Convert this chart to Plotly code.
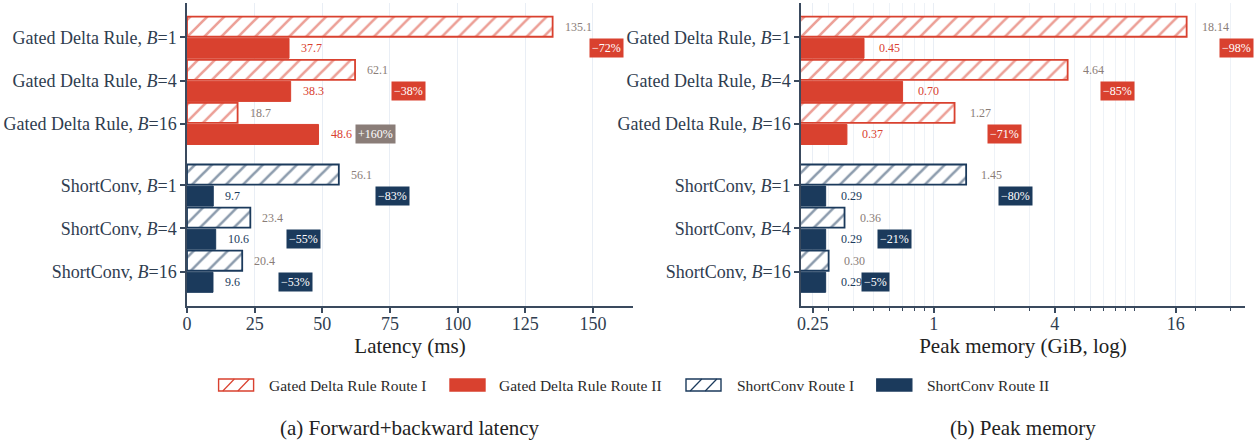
import math
import plotly.graph_objects as go

# ---- data ---------------------------------------------------------------
categories = [
    "Gated Delta Rule, <i>B</i>=1",
    "Gated Delta Rule, <i>B</i>=4",
    "Gated Delta Rule, <i>B</i>=16",
    "ShortConv, <i>B</i>=1",
    "ShortConv, <i>B</i>=4",
    "ShortConv, <i>B</i>=16",
]
family = ["gdr", "gdr", "gdr", "sc", "sc", "sc"]
row_pos = [0, 1, 2, 3.43, 4.43, 5.43]

latency_route1 = [135.1, 62.1, 18.7, 56.1, 23.4, 20.4]
latency_route2 = [37.7, 38.3, 48.6, 9.7, 10.6, 9.6]
latency_change = ["\u221272%", "\u221238%", "+160%", "\u221283%", "\u221255%", "\u221253%"]

memory_route1 = [18.14, 4.64, 1.27, 1.45, 0.36, 0.30]
memory_route2 = [0.45, 0.70, 0.37, 0.29, 0.29, 0.29]
memory_change = ["\u221298%", "\u221285%", "\u221271%", "\u221280%", "\u221221%", "\u22125%"]

memory_ticks = [0.25, 1, 4, 16]
memory_ticktext = ["0.25", "1", "4", "16"]

# ---- style --------------------------------------------------------------
FONT = "'Liberation Serif', 'Times New Roman', Times, serif"
RED = "#d9412f"
NAVY = "#1b3a5c"
TAUPE = "#8a7d78"
INK = "#2f3d4f"
AXIS = "#3a4a5e"
GRID = "#e9eef5"
FAM_COLOR = {"gdr": RED, "sc": NAVY}

W, H = 1255, 444
ML, MR, MT, MB = 187, 10, 3, 138
PW = W - ML - MR
PH = H - MT - MB


def px_x(px):
    return (px - ML) / PW


def px_y(py):
    return (MT + PH - py) / PH


colors = [FAM_COLOR[f] for f in family]

fig = go.Figure()


def add_panel(xa, ya, r1, r2):
    fig.add_trace(go.Bar(
        y=row_pos, x=r1, orientation="h", xaxis=xa, yaxis=ya,
        name="Route I", showlegend=False,
        marker=dict(color="white", line=dict(color=colors, width=1.8),
                    pattern=dict(shape="/", fgcolor=colors, bgcolor="white",
                                 size=12, solidity=0.22)),
    ))
    fig.add_trace(go.Bar(
        y=row_pos, x=r2, orientation="h", xaxis=xa, yaxis=ya,
        name="Route II", showlegend=False,
        marker=dict(color=colors, line=dict(color=colors, width=1)),
    ))


add_panel("x", "y", latency_route1, latency_route2)
add_panel("x2", "y2", memory_route1, memory_route2)

annotations = []


def label_panel(xref, yref, r1, r2, changes, log, shift_val, shift_box):
    conv = (lambda v: math.log10(v)) if log else (lambda v: v)
    fmt = "{:.2f}" if log else "{:.1f}"
    for i, p in enumerate(row_pos):
        annotations.append(dict(
            x=conv(r1[i]), y=p - 0.25, xref=xref, yref=yref, text=fmt.format(r1[i]),
            showarrow=False, xanchor="left", yanchor="middle", xshift=shift_val,
            font=dict(family=FONT, size=12, color=TAUPE)))
        annotations.append(dict(
            x=conv(r2[i]), y=p + 0.25, xref=xref, yref=yref, text=fmt.format(r2[i]),
            showarrow=False, xanchor="left", yanchor="middle", xshift=shift_val,
            font=dict(family=FONT, size=12, color=colors[i])))
        box = TAUPE if changes[i].startswith("+") else colors[i]
        annotations.append(dict(
            x=conv(max(r1[i], r2[i])), y=p + 0.25, xref=xref, yref=yref,
            text=changes[i], showarrow=False, xanchor="left", yanchor="middle",
            xshift=shift_box, bgcolor=box, borderpad=2,
            font=dict(family=FONT, size=12, color="white")))


label_panel("x", "y", latency_route1, latency_route2, latency_change, False, 10, 36)
label_panel("x2", "y2", memory_route1, memory_route2, memory_change, True, 13, 32)

# ---- legend (drawn in paper space) ---------------------------------------
shapes = []
legend_items = [
    ("Gated Delta Rule Route I", RED, True, 218.6, 266.5),
    ("Gated Delta Rule Route II", RED, False, 450.0, 497.0),
    ("ShortConv Route I", NAVY, True, 686.0, 734.7),
    ("ShortConv Route II", NAVY, False, 876.8, 924.8),
]
ly = 385
sw, sh = 35, 12
for text, col, hatched, sx, tx in legend_items:
    x0, x1 = px_x(sx), px_x(sx + sw)
    y0, y1 = px_y(ly + sh / 2), px_y(ly - sh / 2)
    shapes.append(dict(type="rect", xref="paper", yref="paper", x0=x0, x1=x1, y0=y0, y1=y1,
                       fillcolor="white" if hatched else col,
                       line=dict(color=col, width=1.4)))
    if hatched:
        for a, b in ((0.12, 0.45), (0.55, 0.88)):
            shapes.append(dict(
                type="path", xref="paper", yref="paper",
                path="M{},{} L{},{}".format(px_x(sx + a * sw), y0, px_x(sx + b * sw), y1),
                line=dict(color=col, width=1.2)))
    annotations.append(dict(x=px_x(tx), y=px_y(ly), xref="paper", yref="paper", text=text,
                            showarrow=False, xanchor="left", yanchor="middle",
                            font=dict(family=FONT, size=15.5, color="#2a2a2a")))

# sub-captions
annotations.append(dict(x=px_x(410), y=px_y(428), xref="paper", yref="paper",
                        text="(a) Forward+backward latency", showarrow=False,
                        xanchor="center", yanchor="middle",
                        font=dict(family=FONT, size=21, color="#222222")))
annotations.append(dict(x=px_x(1023), y=px_y(428), xref="paper", yref="paper",
                        text="(b) Peak memory", showarrow=False,
                        xanchor="center", yanchor="middle",
                        font=dict(family=FONT, size=21, color="#222222")))

yaxis_common = dict(
    tickmode="array", tickvals=row_pos, ticktext=categories,
    range=[6.23, -0.8], showgrid=False, zeroline=False,
    showline=True, linecolor=AXIS, linewidth=1.5,
    ticks="outside", ticklen=5, tickwidth=1.5, tickcolor=AXIS,
    tickfont=dict(family=FONT, size=18, color=INK),
)

fig.update_layout(
    width=W, height=H,
    margin=dict(l=ML, r=MR, t=MT, b=MB),
    paper_bgcolor="white", plot_bgcolor="white",
    barmode="group", bargap=0.0, bargroupgap=0.07,
    showlegend=False,
    font=dict(family=FONT, color=INK),
    xaxis=dict(
        domain=[0, px_x(633)], anchor="y", range=[0, 164.8],
        tickmode="array", tickvals=[0, 25, 50, 75, 100, 125, 150],
        showgrid=True, gridcolor=GRID, gridwidth=1, zeroline=False,
        showline=True, linecolor=AXIS, linewidth=1.5,
        ticks="outside", ticklen=5, tickwidth=1.5, tickcolor=AXIS,
        ticklabelstandoff=-4,
        tickfont=dict(family=FONT, size=18, color=INK),
        title=dict(text="Latency (ms)", standoff=0,
                   font=dict(family=FONT, size=21, color="#222222")),
    ),
    yaxis=dict(domain=[0, 1], anchor="x", **yaxis_common),
    xaxis2=dict(
        domain=[px_x(801), 1], anchor="y2", type="log",
        range=[math.log10(0.2186), math.log10(35.4)],
        tickmode="array", tickvals=memory_ticks, ticktext=memory_ticktext,
        showgrid=True, gridcolor=GRID, gridwidth=1, zeroline=False,
        showline=True, linecolor=AXIS, linewidth=1.5,
        ticks="outside", ticklen=5, tickwidth=1.5, tickcolor=AXIS,
        ticklabelstandoff=-4,
        tickfont=dict(family=FONT, size=18, color=INK),
        minor=dict(dtick="D1", ticks="outside", ticklen=3, tickwidth=1,
                   tickcolor=AXIS, showgrid=True, gridcolor="#eef2f7", gridwidth=1),
        title=dict(text="Peak memory (GiB, log)", standoff=0,
                   font=dict(family=FONT, size=21, color="#222222")),
    ),
    yaxis2=dict(domain=[0, 1], anchor="x2", **yaxis_common),
    annotations=annotations,
    shapes=shapes,
)

fig.write_html("out.html")
